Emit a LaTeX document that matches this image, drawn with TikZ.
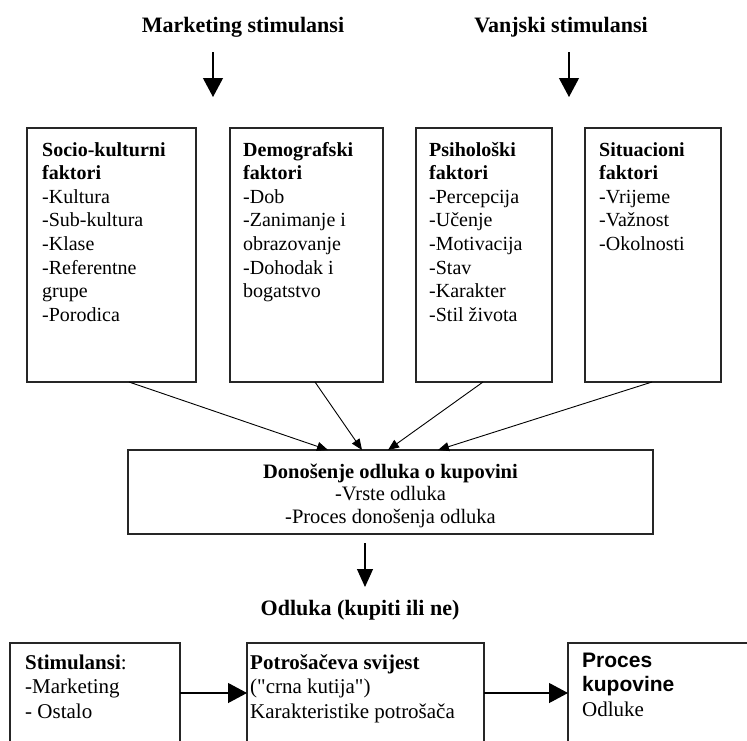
\documentclass[tikz,border=0pt]{standalone}
\usepackage{fontspec}
\setmainfont{Liberation Serif}
\newfontfamily\sansb{Liberation Sans}
\usetikzlibrary{arrows.meta}
\begin{document}
\begin{tikzpicture}[x=1pt,y=-1pt,
  box/.style={draw=black!85, line width=1.1pt, anchor=north west, inner sep=0pt, outer sep=0pt},
  txt/.style={anchor=base west, align=left, inner sep=0pt, font=\fontsize{20}{23.6}\selectfont},
  btxt/.style={anchor=base west, align=left, inner sep=0pt, font=\fontsize{21}{24.5}\selectfont},
  ctxt/.style={anchor=base, align=center, inner sep=0pt, font=\fontsize{20.5}{22.5}\selectfont},
  ttl/.style={anchor=base, inner sep=0pt, font=\fontsize{22}{26}\selectfont\bfseries},
  bigarr/.style={line width=1.1pt, -{Triangle[width=20pt,length=19pt]}},
  medarr/.style={line width=1.1pt, -{Triangle[width=16pt,length=18pt]}},
  thinarr/.style={line width=0.9pt, -{Triangle[width=9pt,length=11pt]}},
]
\useasboundingbox (0,0) rectangle (747,740);
\clip (0,0) rectangle (747,740);

% top stimuli
\node[ttl] (m) at (243,32) {Marketing stimulansi};
\node[ttl] (v) at (561,32) {Vanjski stimulansi};
\coordinate (m1) at (213,52); \coordinate (m2) at (213,97);
\coordinate (v1) at (569,52); \coordinate (v2) at (569,97);
\draw[bigarr] (m1) -- (m2);
\draw[bigarr] (v1) -- (v2);

% factor boxes
\node[box, minimum width=169pt, minimum height=254pt] (b1) at (27,128) {};
\node[box, minimum width=153pt, minimum height=254pt] (b2) at (230,128) {};
\node[box, minimum width=136pt, minimum height=254pt] (b3) at (416,128) {};
\node[box, minimum width=136pt, minimum height=254pt] (b4) at (585,128) {};

% anchors are the baseline of the last line (first line baseline at y=156)
\node[txt] (t1) at (42,321.2) {\textbf{Socio-kulturni}\\\textbf{faktori}\\-Kultura\\-Sub-kultura\\-Klase\\-Referentne\\grupe\\-Porodica};
\node[txt] (t2) at (243,297.6) {\textbf{Demografski}\\\textbf{faktori}\\-Dob\\-Zanimanje i\\obrazovanje\\-Dohodak i\\bogatstvo};
\node[txt] (t3) at (429,321.2) {\textbf{Psihološki}\\\textbf{faktori}\\-Percepcija\\-Učenje\\-Motivacija\\-Stav\\-Karakter\\-Stil života};
\node[txt] (t4) at (599,250.4) {\textbf{Situacioni}\\\textbf{faktori}\\-Vrijeme\\-Važnost\\-Okolnosti};

% decision box
\node[box, minimum width=525pt, minimum height=84pt] (dec) at (128,450) {};
\node[ctxt] (dt) at (390.5,523) {\textbf{Donošenje odluka o kupovini}\\-Vrste odluka\\-Proces donošenja odluka};

\draw[thinarr] (129,0 |- b1.south) -- (328,0 |- dec.north);
\draw[thinarr] (315,0 |- b2.south) -- (362,0 |- dec.north);
\draw[thinarr] (483,0 |- b3.south) -- (388,0 |- dec.north);
\draw[thinarr] (652,0 |- b4.south) -- (438,0 |- dec.north);

% decision outcome
\node[ttl] (odl) at (360,615) {Odluka (kupiti ili ne)};
\coordinate (d1) at (365,543); \coordinate (d2) at (365,587);
\draw[medarr] (d1) -- (d2);

% bottom row
\node[box, minimum width=170pt, minimum height=130pt] (bb1) at (10,643) {};
\node[box, minimum width=237pt, minimum height=130pt] (bb2) at (247,643) {};
\node[box, minimum width=220pt, minimum height=130pt] (bb3) at (568,643) {};

\node[btxt] (bt1) at (25,718) {\textbf{Stimulansi}:\\-Marketing\\- Ostalo};
\node[btxt] (bt2) at (250,718) {\textbf{Potrošačeva svijest}\\(\textquotedbl crna kutija\textquotedbl)\\Karakteristike potrošača};
\node[btxt] (bt3) at (582,716) {{\sansb\bfseries Proces}\\{\sansb\bfseries kupovine}\\Odluke};

\draw[bigarr] (bb1.east |- 0,693) -- (bb2.west |- 0,693);
\draw[bigarr] (bb2.east |- 0,693) -- (bb3.west |- 0,693);
\end{tikzpicture}
\end{document}
